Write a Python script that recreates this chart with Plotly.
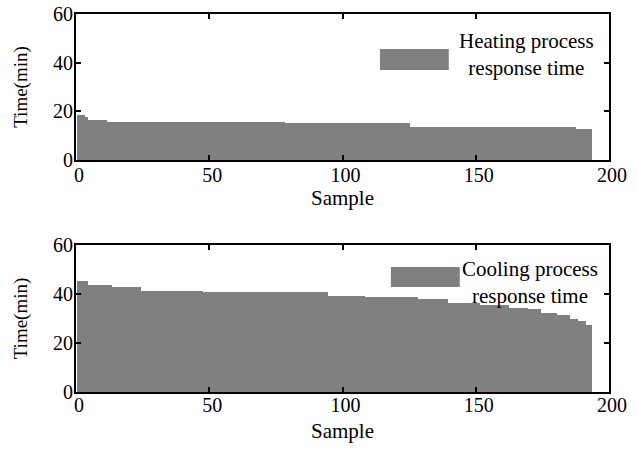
import plotly.graph_objects as go
from plotly.subplots import make_subplots

# ---- data ----
heating = [
    18.5, 18.5, 18.5, 17.8, 16.4, 16.4, 16.4, 16.4, 16.4, 16.4,
    16.4, 15.8, 15.8, 15.8, 15.8, 15.8, 15.8, 15.8, 15.8, 15.8,
    15.8, 15.8, 15.8, 15.8, 15.8, 15.8, 15.8, 15.8, 15.8, 15.8,
    15.8, 15.8, 15.8, 15.8, 15.8, 15.8, 15.8, 15.8, 15.8, 15.8,
    15.8, 15.8, 15.8, 15.8, 15.8, 15.8, 15.8, 15.8, 15.8, 15.8,
    15.8, 15.8, 15.8, 15.8, 15.8, 15.8, 15.8, 15.8, 15.8, 15.8,
    15.8, 15.8, 15.8, 15.8, 15.8, 15.8, 15.8, 15.8, 15.8, 15.8,
    15.8, 15.8, 15.8, 15.8, 15.8, 15.8, 15.8, 15.8, 15.1, 15.1,
    15.1, 15.1, 15.1, 15.1, 15.1, 15.1, 15.1, 15.1, 15.1, 15.1,
    15.1, 15.1, 15.1, 15.1, 15.1, 15.1, 15.1, 15.1, 15.1, 15.1,
    15.1, 15.1, 15.1, 15.1, 15.1, 15.1, 15.1, 15.1, 15.1, 15.1,
    15.1, 15.1, 15.1, 15.1, 15.1, 15.1, 15.1, 15.1, 15.1, 15.1,
    15.1, 15.1, 15.1, 15.1, 15.1, 13.7, 13.7, 13.7, 13.7, 13.7,
    13.7, 13.7, 13.7, 13.7, 13.7, 13.7, 13.7, 13.7, 13.7, 13.7,
    13.7, 13.7, 13.7, 13.7, 13.7, 13.7, 13.7, 13.7, 13.7, 13.7,
    13.7, 13.7, 13.7, 13.7, 13.7, 13.7, 13.7, 13.7, 13.7, 13.7,
    13.7, 13.7, 13.7, 13.7, 13.7, 13.7, 13.7, 13.7, 13.7, 13.7,
    13.7, 13.7, 13.7, 13.7, 13.7, 13.7, 13.7, 13.7, 13.7, 13.7,
    13.7, 13.7, 13.7, 13.7, 13.7, 13.7, 13.7, 12.9, 12.9, 12.9,
    12.9, 12.9, 12.9,
]

cooling = [
    45.5, 45.5, 45.5, 45.5, 43.6, 43.6, 43.6, 43.6, 43.6, 43.6,
    43.6, 43.6, 43.6, 43.0, 43.0, 43.0, 43.0, 43.0, 43.0, 43.0,
    43.0, 43.0, 43.0, 43.0, 41.3, 41.3, 41.3, 41.3, 41.3, 41.3,
    41.3, 41.3, 41.3, 41.3, 41.3, 41.3, 41.3, 41.3, 41.3, 41.3,
    41.3, 41.3, 41.3, 41.3, 41.3, 41.3, 41.3, 40.8, 40.8, 40.8,
    40.8, 40.8, 40.8, 40.8, 40.8, 40.8, 40.8, 40.8, 40.8, 40.8,
    40.8, 40.8, 40.8, 40.8, 40.8, 40.8, 40.8, 40.8, 40.8, 40.8,
    40.8, 40.8, 40.8, 40.8, 40.8, 40.8, 40.8, 40.8, 40.8, 40.8,
    40.8, 40.8, 40.8, 40.8, 40.8, 40.8, 40.8, 40.8, 40.8, 40.8,
    40.8, 40.8, 40.8, 40.8, 39.3, 39.3, 39.3, 39.3, 39.3, 39.3,
    39.3, 39.3, 39.3, 39.3, 39.3, 39.3, 39.3, 39.3, 38.7, 38.7,
    38.7, 38.7, 38.7, 38.7, 38.7, 38.7, 38.7, 38.7, 38.7, 38.7,
    38.7, 38.7, 38.7, 38.7, 38.7, 38.7, 38.7, 38.7, 38.0, 38.0,
    38.0, 38.0, 38.0, 38.0, 38.0, 38.0, 38.0, 38.0, 38.0, 36.3,
    36.3, 36.3, 36.3, 36.3, 36.3, 36.3, 36.3, 36.3, 36.3, 36.3,
    36.3, 35.7, 35.7, 35.7, 35.7, 35.7, 35.7, 35.7, 35.7, 35.7,
    35.7, 35.7, 34.4, 34.4, 34.4, 34.4, 34.4, 34.4, 34.4, 33.7,
    33.7, 33.7, 33.7, 33.7, 32.3, 32.3, 32.3, 32.3, 32.3, 32.3,
    31.3, 31.3, 31.3, 31.3, 31.3, 30.0, 30.0, 30.0, 28.9, 28.9,
    28.9, 27.3, 27.3,
]

samples = list(range(1, len(heating) + 1))
x_ticks = [0, 50, 100, 150, 200]
y_ticks = [0, 20, 40, 60]
legend_texts = ["Heating process<br>response time", "Cooling process<br>response time"]

BAR = "#808080"
FONT = "Liberation Serif, Times New Roman, serif"
TICK_SIZE = 20
XTITLE_SIZE = 21
YTITLE_SIZE = 19
LEG_SIZE = 21

fig = make_subplots(rows=2, cols=1)
fig.add_trace(go.Bar(x=samples, y=heating, width=1, marker=dict(color=BAR, line=dict(width=0)),
                     name="Heating process response time", showlegend=False), row=1, col=1)
fig.add_trace(go.Bar(x=samples, y=cooling, width=1, marker=dict(color=BAR, line=dict(width=0)),
                     name="Cooling process response time", showlegend=False), row=2, col=1)

W, H = 638, 452
ML, MR, MT, MB = 75.5, 28.5, 14, 60
inner_h = H - MT - MB
top_dom = [1 - (160 - MT) / inner_h, 1.0]
bot_dom = [0.0, 1 - (245 - MT) / inner_h]

axis_common = dict(showline=True, linecolor="black", linewidth=2, mirror="ticks",
                   ticks="inside", ticklen=5, tickwidth=1.5, tickcolor="black",
                   showgrid=False, zeroline=False, automargin=False,
                   tickfont=dict(family=FONT, size=TICK_SIZE, color="black"))

fig.update_layout(
    width=W, height=H, margin=dict(l=ML, r=MR, t=MT, b=MB, autoexpand=False),
    plot_bgcolor="white", paper_bgcolor="white", bargap=0,
    font=dict(family=FONT, size=TICK_SIZE, color="black"),
    xaxis=dict(domain=[0, 1], range=[0, 200], tickvals=x_ticks, **axis_common,
               ticklabelstandoff=-4, ticklabelshift=3,
               title=dict(text="Sample", font=dict(family=FONT, size=XTITLE_SIZE), standoff=2)),
    xaxis2=dict(domain=[0, 1], range=[0, 200], tickvals=x_ticks, **axis_common,
                ticklabelstandoff=-6, ticklabelshift=3,
                title=dict(text="Sample", font=dict(family=FONT, size=XTITLE_SIZE), standoff=8)),
    yaxis=dict(domain=top_dom, range=[0, 60], tickvals=y_ticks, **axis_common,
               ticklabelstandoff=-3,
               title=dict(text="Time(min)", font=dict(family=FONT, size=YTITLE_SIZE), standoff=20)),
    yaxis2=dict(domain=bot_dom, range=[0, 60], tickvals=y_ticks, **axis_common,
                ticklabelstandoff=-3,
                title=dict(text="Time(min)", font=dict(family=FONT, size=YTITLE_SIZE), standoff=20)),
)

# legend boxes drawn manually (large swatch + centered two-line text)
legend_pos = [
    dict(x0=380, x1=449, y0=49, y1=70, tx=527, ty=54),
    dict(x0=391, x1=460, y0=267, y1=287, tx=530, ty=282),
]
for pos, txt in zip(legend_pos, legend_texts):
    fig.add_shape(type="rect", xref="paper", yref="paper",
                  x0=(pos["x0"] - ML) / (W - ML - MR), x1=(pos["x1"] - ML) / (W - ML - MR),
                  y0=(H - MB - pos["y1"]) / inner_h, y1=(H - MB - pos["y0"]) / inner_h,
                  fillcolor=BAR, line=dict(width=0), layer="above")
    fig.add_annotation(xref="paper", yref="paper",
                       x=(pos["tx"] - ML) / (W - ML - MR), y=(H - MB - pos["ty"]) / inner_h,
                       text=txt, showarrow=False, align="center",
                       font=dict(family=FONT, size=LEG_SIZE, color="black"),
                       xanchor="center", yanchor="middle")

fig.write_html("out.html")
